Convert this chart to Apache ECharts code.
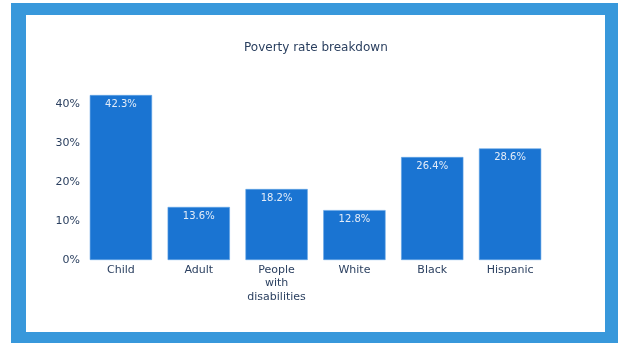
<!DOCTYPE html>
<html>
<head>
<meta charset="utf-8">
<script src="https://cdn.jsdelivr.net/npm/echarts@6/dist/echarts.min.js"></script>
<style>
  html, body { margin: 0; padding: 0; background: #ffffff; }
  #frame { position: absolute; left: 11px; top: 3px; width: 607px; height: 340px; background: #3898db; }
  #panel { position: absolute; left: 26px; top: 15px; width: 579px; height: 317px; background: #ffffff; }
  #chart { position: absolute; left: 0; top: 0; width: 618px; height: 343px; }
</style>
</head>
<body>
<div id="frame"></div>
<div id="panel"></div>
<div id="chart"></div>
<script>
const title = 'Poverty rate breakdown';
const categories = ['Child', 'Adult', 'People\nwith\ndisabilities', 'White', 'Black', 'Hispanic'];
const values = [42.3, 13.6, 18.2, 12.8, 26.4, 28.6];
const yTicks = [0, 10, 20, 30, 40];

const chart = echarts.init(document.getElementById('chart'), null, { renderer: 'canvas' });
chart.setOption({
  backgroundColor: 'transparent',
  animation: false,
  title: {
    text: title,
    left: 244,
    top: 42,
    padding: 0,
    textStyle: { fontFamily: 'DejaVu Sans', fontSize: 12, fontWeight: 'normal', color: '#2a3f5f' }
  },
  grid: { left: 82, right: 69, top: 65, bottom: 83, containLabel: false },
  xAxis: {
    type: 'category',
    data: categories,
    axisLine: { show: false },
    axisTick: { show: false },
    axisLabel: {
      margin: 3,
      fontFamily: 'DejaVu Sans',
      fontSize: 11,
      color: '#2a3f5f',
      lineHeight: 13.5
    }
  },
  yAxis: {
    type: 'value',
    min: 0,
    max: 50,
    interval: 10,
    splitLine: { show: false },
    axisLine: { show: false },
    axisTick: { show: false },
    axisLabel: {
      margin: 2,
      fontFamily: 'DejaVu Sans',
      fontSize: 11,
      color: '#2a3f5f',
      formatter: function (v) { return yTicks.indexOf(v) >= 0 ? v + '%' : ''; }
    }
  },
  series: [{
    type: 'bar',
    data: values,
    barCategoryGap: '20%',
    itemStyle: { color: '#1a74d2', borderColor: '#5fa3e6', borderWidth: 0.6 },
    label: {
      show: true,
      position: 'insideTop',
      distance: 4,
      fontFamily: 'DejaVu Sans',
      fontSize: 10,
      color: '#e3ecf8',
      formatter: function (p) { return p.value.toFixed(1) + '%'; }
    }
  }]
});
</script>
</body>
</html>
